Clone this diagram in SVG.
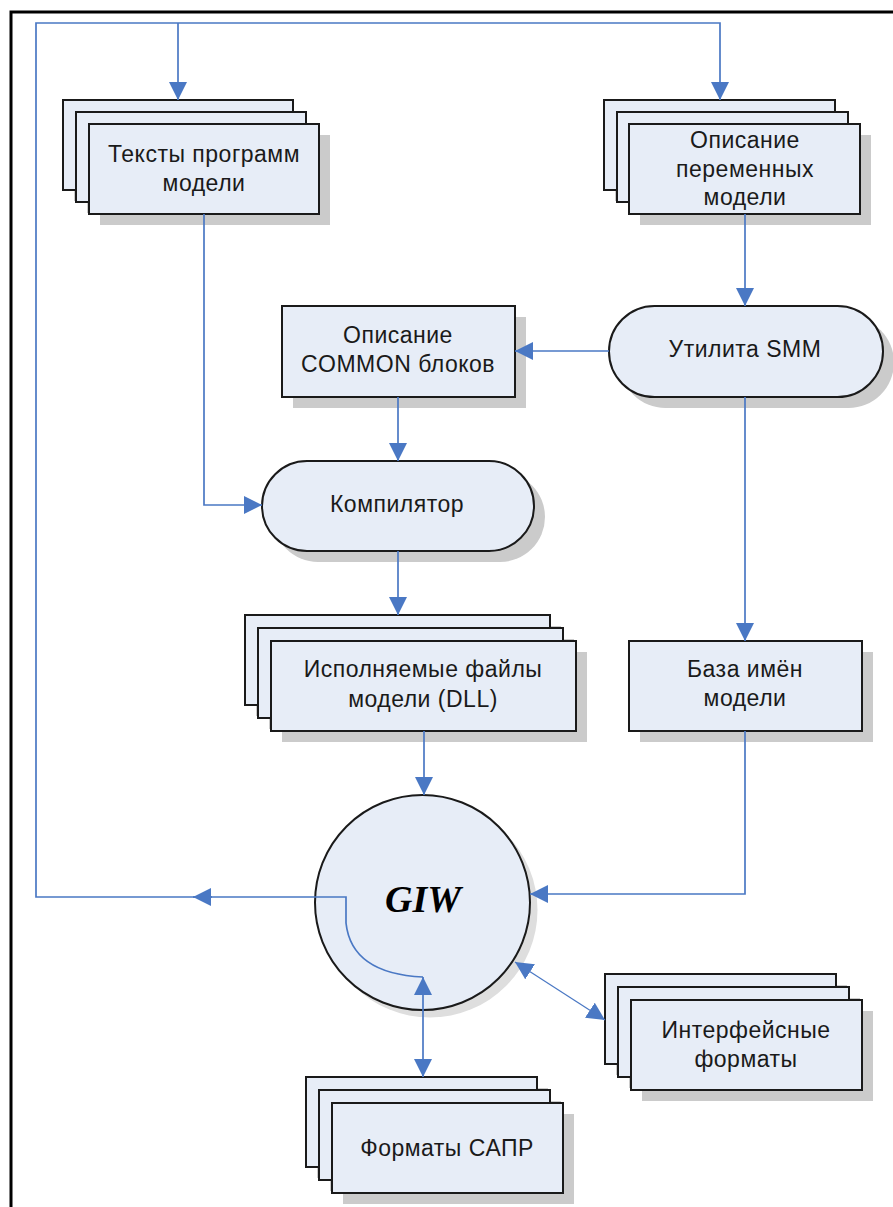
<svg xmlns="http://www.w3.org/2000/svg" width="893" height="1207" viewBox="0 0 893 1207">
<style>
.bg{fill:#ffffff}
.frame{fill:none;stroke:#000;stroke-width:3}
.box{fill:#e7edf7;stroke:#1a1a1a;stroke-width:2}
.sh{fill:#cbcbcb}
.csh{fill:#dedede}
.t{font-family:"Liberation Sans",Arial,sans-serif;font-size:23px;letter-spacing:0.5px;fill:#1a1a1a;text-anchor:middle}
.giw{font-family:"Liberation Serif","Times New Roman",serif;font-size:38px;font-weight:bold;font-style:italic;fill:#000;text-anchor:middle}
.c{fill:none;stroke:#4a78c4;stroke-width:1.7}
.thin{stroke-width:1.2}
</style>
<defs>
<marker id="ah" viewBox="0 0 18 18" refX="18" refY="9" markerWidth="18" markerHeight="18" markerUnits="userSpaceOnUse" orient="auto-start-reverse">
<path d="M0,0 L18,9 L0,18 z" fill="#4a78c4"/>
</marker>
</defs>
<rect class="bg" x="0" y="0" width="893" height="1207"/>
<g id="frame">
<path class="frame" d="M11,1207 L11,12 L893,12"/>
</g>

<g id="texts">
<rect class="sh" x="74" y="111" width="230" height="90"/>
<rect class="box" x="63" y="100" width="230" height="90"/>
<rect class="sh" x="87" y="123" width="230" height="90"/>
<rect class="box" x="76" y="112" width="230" height="90"/>
<rect class="sh" x="100" y="135" width="230" height="90"/>
<rect class="box" x="89" y="124" width="230" height="90"/>
<text class="t" x="204" y="162">Тексты программ</text>
<text class="t" x="204" y="191">модели</text>
</g>

<g id="vars">
<rect class="sh" x="615" y="111" width="231" height="90"/>
<rect class="box" x="604" y="100" width="231" height="90"/>
<rect class="sh" x="628" y="123" width="231" height="90"/>
<rect class="box" x="617" y="112" width="231" height="90"/>
<rect class="sh" x="640" y="135" width="231" height="90"/>
<rect class="box" x="629" y="124" width="231" height="90"/>
<text class="t" x="745" y="148">Описание</text>
<text class="t" x="745" y="177">переменных</text>
<text class="t" x="745" y="205">модели</text>
</g>

<g id="common">
<rect class="sh" x="293" y="317" width="233" height="91"/>
<rect class="box" x="282" y="306" width="233" height="91"/>
<text class="t" x="398" y="343">Описание</text>
<text class="t" x="398" y="372">COMMON блоков</text>
</g>

<g id="smm">
<rect class="sh" x="620" y="317" width="274" height="91" rx="45.5"/>
<rect class="box" x="609" y="306" width="274" height="91" rx="45.5"/>
<text class="t" x="745" y="357">Утилита SMM</text>
</g>

<g id="compiler">
<rect class="sh" x="273" y="472" width="272" height="90" rx="45"/>
<rect class="box" x="262" y="461" width="272" height="90" rx="45"/>
<text class="t" x="397" y="512">Компилятор</text>
</g>

<g id="dll">
<rect class="sh" x="256" y="626" width="305" height="90"/>
<rect class="box" x="245" y="615" width="305" height="90"/>
<rect class="sh" x="269" y="639" width="305" height="90"/>
<rect class="box" x="258" y="628" width="305" height="90"/>
<rect class="sh" x="282" y="652" width="305" height="90"/>
<rect class="box" x="271" y="641" width="305" height="90"/>
<text class="t" x="423" y="677">Исполняемые файлы</text>
<text class="t" x="423" y="707">модели (DLL)</text>
</g>

<g id="names">
<rect class="sh" x="640" y="652" width="233" height="90"/>
<rect class="box" x="629" y="641" width="233" height="90"/>
<text class="t" x="745" y="677">База имён</text>
<text class="t" x="745" y="706">модели</text>
</g>

<g id="giw">
<circle class="csh" cx="430" cy="910" r="107.5"/>
<circle class="box" cx="422.5" cy="902.5" r="107.5"/>
<text class="giw" x="423" y="912">GIW</text>
</g>

<g id="iface">
<rect class="sh" x="616" y="985" width="231" height="90"/>
<rect class="box" x="605" y="974" width="231" height="90"/>
<rect class="sh" x="629" y="998" width="231" height="90"/>
<rect class="box" x="618" y="987" width="231" height="90"/>
<rect class="sh" x="642" y="1011" width="231" height="90"/>
<rect class="box" x="631" y="1000" width="231" height="90"/>
<text class="t" x="746" y="1038">Интерфейсные</text>
<text class="t" x="746" y="1067">форматы</text>
</g>

<g id="cad">
<rect class="sh" x="317" y="1088" width="231" height="90"/>
<rect class="box" x="306" y="1077" width="231" height="90"/>
<rect class="sh" x="330" y="1101" width="231" height="90"/>
<rect class="box" x="319" y="1090" width="231" height="90"/>
<rect class="sh" x="343" y="1114" width="231" height="90"/>
<rect class="box" x="332" y="1103" width="231" height="90"/>
<text class="t" x="447" y="1156">Форматы САПР</text>
</g>

<g id="connectors">
<path class="c" d="M178,23 L178,100" marker-end="url(#ah)"/>
<path class="c" d="M423,977 C380,975 350,960 346,923 L346,897 L36,897 L36,23 L720,23 L720,100" marker-end="url(#ah)"/>
<path class="c" d="M212,897 L193,897" marker-end="url(#ah)"/>
<path class="c" d="M745,214 L745,306" marker-end="url(#ah)"/>
<path class="c" d="M609,351 L515,351" marker-end="url(#ah)"/>
<path class="c" d="M398,397 L398,461" marker-end="url(#ah)"/>
<path class="c" d="M204,214 L204,505 L262,505" marker-end="url(#ah)"/>
<path class="c" d="M398,551 L398,615" marker-end="url(#ah)"/>
<path class="c" d="M745,397 L745,641" marker-end="url(#ah)"/>
<path class="c" d="M424,731 L424,795" marker-end="url(#ah)"/>
<path class="c" d="M745,731 L745,894 L530,894" marker-end="url(#ah)"/>
<path class="c" d="M423,977 L423,1077" marker-start="url(#ah)" marker-end="url(#ah)"/>
<path class="c thin" d="M515,962 L605,1020" marker-start="url(#ah)" marker-end="url(#ah)"/>
</g>
</svg>
